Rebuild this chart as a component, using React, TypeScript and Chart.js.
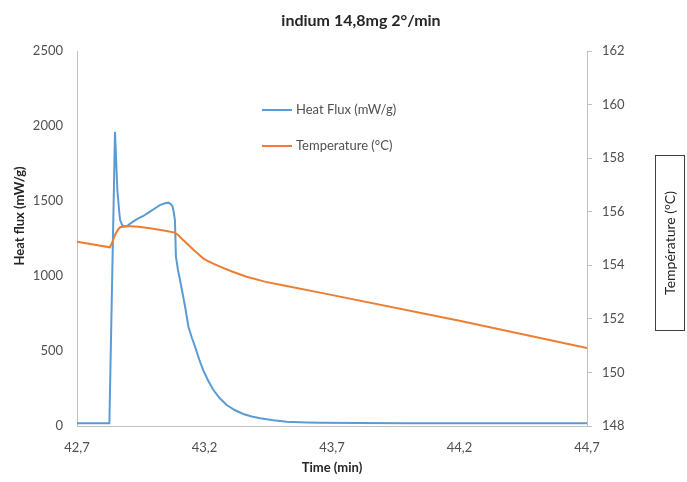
import React, { useEffect, useRef } from "react";
import { Chart, registerables } from "chart.js";

Chart.register(...registerables);

const chartTitle = "indium 14,8mg 2°/min";
const xTitle = "Time (min)";
const leftTitle = "Heat flux (mW/g)";
const rightTitle = "Température (°C)";
const heatFluxLabel = "Heat Flux (mW/g)";
const temperatureLabel = "Temperature (°C)";

const xTicks = [42.7, 43.2, 43.7, 44.2, 44.7];

const heatFluxTime = [
  42.7, 42.827, 42.849, 42.858, 42.866, 42.869, 42.876, 42.882, 42.895, 42.905,
  42.92, 42.94, 42.96, 42.986, 43.005, 43.025, 43.045, 43.058, 43.068, 43.075,
  43.08, 43.084, 43.088, 43.096, 43.104, 43.124, 43.137, 43.15, 43.163, 43.18,
  43.195, 43.215, 43.235, 43.26, 43.287, 43.32, 43.352, 43.385, 43.418, 43.47,
  43.522, 43.6, 43.653, 43.8, 44.0, 44.3, 44.7,
];
const heatFlux = [
  18, 18, 1962, 1580, 1420, 1373, 1345, 1330, 1332, 1345,
  1362, 1384, 1400, 1429, 1450, 1473, 1485, 1489, 1480, 1462,
  1420, 1373, 1129, 1040, 973, 795, 662, 590, 529, 440,
  373, 300, 240, 185, 140, 105, 80, 63, 51, 38,
  29, 24, 22, 20, 19, 18, 18,
];

const temperatureTime = [
  42.7, 42.829, 42.838, 42.849, 42.86, 42.869, 42.895, 42.94, 42.986, 43.04,
  43.084, 43.1, 43.115, 43.13, 43.16, 43.18, 43.195, 43.215, 43.23, 43.261,
  43.31, 43.365, 43.44, 43.522, 43.653, 44.2, 44.7,
];
const temperature = [
  154.88, 154.67, 154.85, 155.13, 155.32, 155.42, 155.47, 155.44, 155.38, 155.3,
  155.22, 155.1, 154.95, 154.82, 154.55, 154.38, 154.26, 154.15, 154.08, 153.95,
  153.76, 153.57, 153.38, 153.23, 152.98, 151.93, 150.91,
];

const BLUE = "#5B9BD5";
const ORANGE = "#ED7D31";
const TEXT = "#505050";
const TITLE = "#262626";
const AXIS = "#BFBFBF";
const FONT = "Lato";

const decorPlugin = {
  id: "decor",
  afterDraw(chart: any) {
    const ctx = chart.ctx as CanvasRenderingContext2D;
    const area = chart.chartArea;
    ctx.save();
    ctx.fillStyle = TITLE;
    ctx.font = `bold 16px ${FONT}`;
    ctx.textAlign = "center";
    ctx.textBaseline = "middle";
    ctx.fillText(chartTitle, 361, 21);

    ctx.font = `bold 13px ${FONT}`;
    ctx.fillText(xTitle, (area.left + area.right) / 2, 468);

    ctx.save();
    ctx.translate(20, 216);
    ctx.rotate(-Math.PI / 2);
    ctx.fillText(leftTitle, 0, 0);
    ctx.restore();

    ctx.strokeStyle = "#404040";
    ctx.lineWidth = 1;
    ctx.strokeRect(655.5, 155.5, 29, 175);
    ctx.save();
    ctx.translate(670, 243);
    ctx.rotate(-Math.PI / 2);
    ctx.font = `14px ${FONT}`;
    ctx.fillStyle = TITLE;
    ctx.fillText(rightTitle, 0, 0);
    ctx.restore();

    const items = [
      { label: heatFluxLabel, color: BLUE, y: 110 },
      { label: temperatureLabel, color: ORANGE, y: 146 },
    ];
    ctx.font = `13px ${FONT}`;
    ctx.textAlign = "left";
    for (const it of items) {
      ctx.strokeStyle = it.color;
      ctx.lineWidth = 2;
      ctx.beginPath();
      ctx.moveTo(262, it.y);
      ctx.lineTo(292, it.y);
      ctx.stroke();
      ctx.fillStyle = TEXT;
      ctx.fillText(it.label, 296, it.y);
    }
    ctx.restore();
  },
};

export default function App() {
  const ref = useRef<HTMLCanvasElement | null>(null);

  useEffect(() => {
    if (!ref.current) return;
    const chart = new Chart(ref.current, {
      type: "line",
      data: {
        datasets: [
          {
            label: temperatureLabel,
            data: temperatureTime.map((t, i) => ({ x: t, y: temperature[i] })),
            borderColor: ORANGE,
            backgroundColor: ORANGE,
            borderWidth: 2,
            pointRadius: 0,
            yAxisID: "yR",
            tension: 0,
          },
          {
            label: heatFluxLabel,
            data: heatFluxTime.map((t, i) => ({ x: t, y: heatFlux[i] })),
            borderColor: BLUE,
            backgroundColor: BLUE,
            borderWidth: 2,
            pointRadius: 0,
            yAxisID: "yL",
            tension: 0,
          },
        ],
      },
      options: {
        responsive: false,
        animation: false,
        layout: { padding: { top: 51, left: 0, right: 0, bottom: 0 } },
        plugins: {
          legend: { display: false },
          title: { display: false },
          tooltip: { enabled: false },
        },
        scales: {
          x: {
            type: "linear",
            min: 42.7,
            max: 44.7,
            afterBuildTicks: (scale: any) => {
              scale.ticks = xTicks.map((v) => ({ value: v }));
            },
            afterFit: (scale: any) => {
              scale.height = 56;
            },
            grid: { display: false, drawTicks: false },
            border: { display: true, color: AXIS, width: 1 },
            ticks: {
              color: TEXT,
              font: { family: FONT, size: 13 },
              padding: 14,
              maxRotation: 0,
              callback: (v: any) => Number(v).toFixed(1).replace(".", ","),
            },
          },
          yL: {
            type: "linear",
            position: "left",
            min: 0,
            max: 2500,
            afterFit: (scale: any) => {
              scale.width = 77;
            },
            grid: { display: false, drawTicks: false },
            border: { display: true, color: AXIS, width: 1 },
            ticks: {
              stepSize: 500,
              color: TEXT,
              font: { family: FONT, size: 13 },
              padding: 14,
              callback: (v: any) => String(v),
            },
          },
          yR: {
            type: "linear",
            position: "right",
            min: 148,
            max: 162,
            afterFit: (scale: any) => {
              scale.width = 100;
            },
            grid: {
              drawOnChartArea: false,
              drawTicks: true,
              tickLength: 5,
              color: AXIS,
            },
            border: { display: true, color: AXIS, width: 1 },
            ticks: {
              stepSize: 2,
              color: TEXT,
              font: { family: FONT, size: 13 },
              padding: 10,
              callback: (v: any) => String(v),
            },
          },
        },
      },
      plugins: [decorPlugin],
    });
    return () => chart.destroy();
  }, []);

  return (
    <div style={{ position: "fixed", left: 0, top: 0, width: 687, height: 482, background: "#fff" }}>
      <canvas ref={ref} width={687} height={482} style={{ display: "block" }} />
    </div>
  );
}
